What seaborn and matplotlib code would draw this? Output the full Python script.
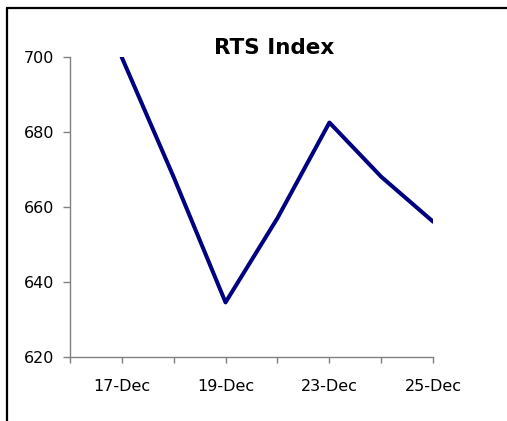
import numpy as np
import pandas as pd
import seaborn as sbn
import matplotlib
matplotlib.use("Agg")
import matplotlib.pyplot as plt
from matplotlib.lines import Line2D

# RTS index closes
dates = ["17-Dec", "18-Dec", "19-Dec", "20-Dec", "23-Dec", "24-Dec", "25-Dec"]
values = [700, 668, 634.5, 657, 682.5, 668, 656]
yticks = [620, 640, 660, 680, 700]

sbn.set_style("white")
plt.rcParams["font.family"] = ["DejaVu Sans"]
plt.rcParams["text.color"] = "black"
plt.rcParams["xtick.labelcolor"] = "black"
plt.rcParams["ytick.labelcolor"] = "black"

df = pd.DataFrame({"date": dates, "rts": values})

fig = plt.figure(figsize=(5.07, 4.21), dpi=100)
ax = fig.add_axes([69.7 / 507, 1 - 356.7 / 421, (433.3 - 69.7) / 507, (356.7 - 57) / 421])

sbn.lineplot(data=df, x="date", y="rts", ax=ax, color="#000080", linewidth=2.9,
             sort=False)

# one empty slot on the left, labels every other point
n = len(dates)
ax.set_xlim(-1, n - 1)
ax.set_xticks(np.arange(-1, n))
ax.set_xticklabels([""] + [d if i % 2 == 0 else "" for i, d in enumerate(dates)])
ax.set_ylim(yticks[0], yticks[-1])
ax.set_yticks(yticks)
ax.set_xlabel("")
ax.set_ylabel("")

for side in ["top", "right"]:
    ax.spines[side].set_visible(False)
for side in ["left", "bottom"]:
    ax.spines[side].set_color("#808080")
    ax.spines[side].set_linewidth(1.0)

ax.tick_params(axis="y", direction="out", length=5, width=1, color="#808080",
               labelsize=11.5, pad=6, left=True, labelcolor="black")
ax.tick_params(axis="x", direction="out", length=4.3, width=1, color="#808080",
               labelsize=11.5, pad=12, bottom=True, labelcolor="black")

fig.text(274.5 / 507, 1 - 54 / 421, "RTS Index", ha="center", va="baseline",
         fontsize=15.5, fontweight="bold", color="black")

# chart frame (only top and left edges show in the crop)
fig.add_artist(Line2D([6.5 / 507, 6.5 / 507], [0, 1 - 7.5 / 421], transform=fig.transFigure,
                      color="black", linewidth=1.6))
fig.add_artist(Line2D([6.5 / 507, 1], [1 - 7.5 / 421, 1 - 7.5 / 421], transform=fig.transFigure,
                      color="black", linewidth=1.6))

fig.savefig("out.png", dpi=100)
